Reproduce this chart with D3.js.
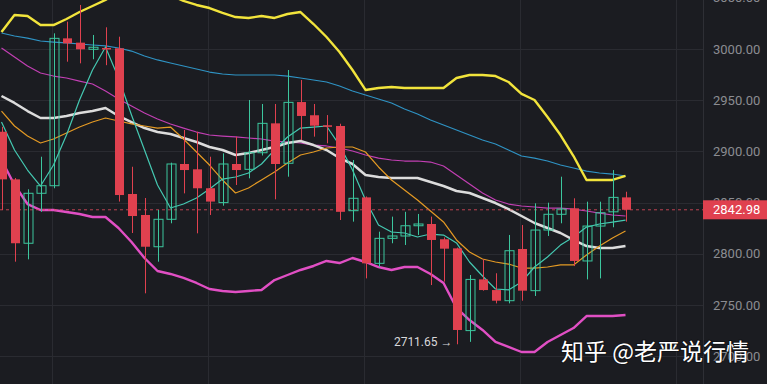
<!DOCTYPE html>
<html>
<head>
<meta charset="utf-8">
<script src="https://cdn.jsdelivr.net/npm/d3@7"></script>
<style>
  html, body { margin: 0; padding: 0; background: #1b1c21; }
  svg { display: block; }
</style>
</head>
<body>
<div id="chart"></div>
<script>
// candle data (one entry per bar)
var opens  = [2919.2,2872.7,2810.3,2859.1,2866.5,3010.4,3006.2,2999.7,3001.0,3000.7,2858.4,2837.9,2806.9,2833.7,2887.7,2882.5,2864.0,2850.0,2887.7,2882.5,2898.7,2927.4,2888.4,2948.2,2935.3,2925.5,2924.8,2842.1,2855.1,2790.7,2815.1,2817.4,2827.4,2829.1,2814.2,2805.3,2725.0,2775.0,2764.6,2754.2,2804.7,2764.0,2823.2,2838.6,2844.4,2793.0,2827.1,2841.0,2855.1];
var highs  = [2924.0,2874.0,2863.0,2894.8,3015.3,3026.7,3043.0,3013.7,3021.2,3012.0,2885.0,2854.5,2842.8,2889.0,2920.9,2919.2,2894.8,2898.1,2914.4,2950.2,2946.3,2946.3,2979.5,2969.7,2946.3,2935.5,2927.0,2891.6,2856.0,2821.6,2836.3,2841.0,2838.9,2836.3,2816.0,2806.0,2779.3,2794.6,2781.0,2818.4,2828.1,2849.3,2849.9,2875.3,2854.2,2850.9,2850.9,2881.8,2860.6];
var lows   = [2842.8,2792.3,2794.6,2841.0,2864.0,2987.6,2986.0,2990.0,2984.2,2851.0,2820.3,2761.4,2792.3,2829.8,2859.0,2820.0,2837.9,2847.0,2867.2,2873.7,2896.0,2853.2,2875.3,2911.1,2914.4,2907.9,2833.0,2831.4,2776.0,2787.0,2810.3,2808.6,2818.4,2769.5,2772.8,2711.65,2714.0,2764.0,2751.6,2751.6,2754.2,2758.8,2817.4,2829.8,2788.0,2775.0,2776.0,2825.9,2831.4];
var closes = [2872.7,2810.3,2859.1,2866.5,3010.4,3005.5,2999.7,3001.7,3000.0,2857.4,2836.9,2806.9,2833.7,2887.7,2881.8,2864.0,2851.0,2887.7,2881.8,2898.7,2927.4,2887.7,2947.9,2934.6,2925.1,2924.0,2841.0,2854.2,2790.7,2815.1,2817.4,2827.4,2829.1,2813.5,2805.0,2725.6,2775.0,2764.6,2754.2,2803.0,2764.0,2823.2,2838.6,2843.7,2793.0,2827.1,2840.1,2855.1,2842.98];

// indicator lines
var ma5  = [2928.7,2901.4,2881.8,2866.2,2886.7,2916.0,2950.2,2979.5,3002.0,2971.7,2935.5,2901.4,2867.2,2844.7,2848.6,2854.5,2863.3,2873.0,2875.0,2878.9,2887.7,2901.4,2914.1,2922.8,2923.8,2924.8,2906.2,2881.8,2852.5,2828.1,2821.3,2820.3,2816.4,2819.3,2818.3,2810.6,2792.0,2778.3,2765.6,2764.7,2772.4,2787.1,2796.9,2808.5,2816.4,2826.1,2829.1,2831.0,2832.9];
var ma10 = [2939.4,2924.8,2915.0,2908.2,2912.1,2918.0,2923.8,2928.7,2932.6,2929.7,2926.8,2924.8,2922.8,2923.8,2912.1,2899.4,2886.7,2872.1,2859.4,2864.3,2872.1,2879.9,2888.7,2896.5,2899.4,2903.3,2904.3,2904.3,2899.4,2884.8,2872.1,2862.3,2852.5,2841.8,2831.1,2813.5,2801.7,2794.9,2792.0,2790.0,2786.1,2786.1,2787.1,2789.1,2789.1,2798.8,2807.6,2815.4,2822.3];
var ma20 = [2954.1,2947.3,2939.4,2932.6,2932.6,2934.6,2937.5,2939.4,2942.4,2934.6,2928.7,2922.8,2918.9,2917.0,2913.1,2909.2,2904.3,2901.4,2896.5,2898.4,2901.4,2904.3,2908.2,2910.1,2906.2,2901.4,2893.5,2887.7,2876.9,2875.0,2874.0,2874.0,2874.0,2870.1,2866.2,2861.3,2859.4,2854.5,2849.6,2843.7,2836.9,2830.1,2825.2,2820.3,2813.5,2807.6,2805.6,2805.6,2807.6];
var ma30 = [3001.0,2992.2,2983.4,2976.6,2973.6,2971.7,2968.7,2965.8,2959.0,2951.2,2944.3,2937.5,2931.6,2926.8,2922.8,2918.9,2916.0,2915.0,2914.1,2913.1,2912.1,2910.1,2909.2,2908.2,2906.2,2905.3,2903.3,2900.4,2896.5,2893.5,2891.6,2890.6,2890.6,2889.6,2885.7,2876.9,2868.1,2859.4,2852.5,2848.6,2846.7,2845.7,2844.7,2844.7,2843.7,2841.8,2839.8,2837.9,2836.9];
var ma60 = [3015.6,3012.7,3010.7,3007.8,3006.8,3005.9,3004.9,3003.9,3003.0,3001.0,2998.0,2993.2,2989.3,2986.3,2983.4,2980.5,2977.5,2975.6,2974.6,2974.6,2974.6,2974.6,2973.6,2971.7,2969.7,2967.8,2963.9,2959.0,2955.1,2951.2,2947.3,2941.4,2936.5,2930.7,2925.8,2920.9,2916.0,2911.1,2907.2,2901.4,2895.5,2893.5,2890.6,2886.7,2883.8,2880.8,2878.9,2877.9,2876.0];
var bollUpper = [3016.6,3033.2,3032.2,3023.4,3023.4,3029.3,3036.1,3042.0,3047.9,3055.7,3061.5,3065.4,3063.5,3052.7,3046.9,3043.0,3040.0,3035.2,3031.2,3030.3,3032.2,3030.3,3034.2,3036.1,3024.4,3011.7,2997.1,2979.5,2960.0,2961.9,2962.9,2961.9,2961.9,2961.9,2961.9,2971.7,2974.6,2974.6,2973.6,2967.8,2956.1,2950.2,2933.6,2916.0,2895.5,2872.1,2872.1,2872.1,2876.0];
var bollLower = [2891.6,2867.2,2848.6,2842.8,2842.8,2840.8,2838.9,2835.9,2835.9,2825.2,2811.5,2795.9,2783.2,2780.3,2776.4,2771.5,2765.6,2763.7,2762.7,2763.7,2764.7,2774.4,2779.3,2784.2,2788.1,2793.0,2791.0,2795.9,2792.0,2787.1,2784.2,2787.1,2787.1,2780.3,2771.5,2747.1,2735.3,2725.6,2713.9,2709.0,2704.1,2704.1,2713.9,2720.7,2727.5,2739.2,2739.2,2739.2,2740.2];

var priceTicks = [3050, 3000, 2950, 2900, 2850, 2800, 2750, 2700];
var gridBars = [4, 16, 28, 40, 52];
var lastPrice = 2842.98;
var lowMark = 2711.65, lowBar = 35;

var width = 767, height = 384, plotRight = 703;

var svg = d3.select('#chart').append('svg')
  .attr('width', width).attr('height', height)
  .style('background', '#1b1c21');

var x = d3.scaleLinear().domain([0, 48]).range([1.5, 625.5]);
var y = d3.scaleLinear().domain([2700, 3050]).range([356.2, -2.2]);

// grid
svg.append('g').selectAll('line.h')
  .data(priceTicks).enter().append('line')
  .attr('x1', 0).attr('x2', plotRight)
  .attr('y1', function (d) { return Math.round(y(d)) + 0.5; })
  .attr('y2', function (d) { return Math.round(y(d)) + 0.5; })
  .attr('stroke', '#2a2b31').attr('stroke-width', 1);

svg.append('g').selectAll('line.v')
  .data(gridBars).enter().append('line')
  .attr('x1', function (d) { return Math.round(x(d)) - 1.5; })
  .attr('x2', function (d) { return Math.round(x(d)) - 1.5; })
  .attr('y1', 0).attr('y2', height)
  .attr('stroke', '#2a2b31').attr('stroke-width', 1);

svg.append('line')
  .attr('x1', plotRight + 0.5).attr('x2', plotRight + 0.5)
  .attr('y1', 0).attr('y2', height)
  .attr('stroke', '#2e2f35');

// price axis on the right
var axis = d3.axisRight(y).tickValues(priceTicks)
  .tickFormat(d3.format('.2f')).tickSize(0).tickPadding(10);
var gAxis = svg.append('g').attr('transform', 'translate(' + plotRight + ',0)').call(axis);
gAxis.select('.domain').remove();
gAxis.selectAll('text')
  .attr('fill', '#8b8c92')
  .style('font-family', 'Roboto, "Noto Sans", sans-serif')
  .style('font-size', '13px');

var plot = svg.append('g');

// indicator lines
function addLine(values, color, w) {
  var line = d3.line()
    .x(function (d, i) { return x(i); })
    .y(function (d) { return y(d); });
  plot.append('path').datum(values)
    .attr('d', line)
    .attr('fill', 'none')
    .attr('stroke', color)
    .attr('stroke-width', w)
    .attr('stroke-linejoin', 'round');
}
addLine(ma60, '#2f93c4', 1.2);
addLine(ma30, '#c23fb3', 1.2);
addLine(bollUpper, '#f2e43c', 2.4);
addLine(bollLower, '#e14fc4', 2.4);
addLine(ma20, '#dcdcdc', 2.5);
addLine(ma10, '#e49a24', 1.2);
addLine(ma5, '#45c9b2', 1.2);

// last price dashed line
plot.append('line')
  .attr('x1', 0).attr('x2', plotRight)
  .attr('y1', y(lastPrice)).attr('y2', y(lastPrice))
  .attr('stroke', '#d9495a').attr('stroke-width', 1)
  .attr('stroke-dasharray', '3,3').attr('opacity', 0.85);

// candles
var red = '#e0414f', green = '#3cc69e', bodyW = 9;
var candles = plot.append('g').selectAll('g')
  .data(opens).enter().append('g');

candles.append('line')
  .attr('x1', function (d, i) { return Math.round(x(i)) + 0.5; })
  .attr('x2', function (d, i) { return Math.round(x(i)) + 0.5; })
  .attr('y1', function (d, i) { return y(highs[i]); })
  .attr('y2', function (d, i) { return y(lows[i]); })
  .attr('stroke', function (d, i) { return closes[i] >= d ? green : red; })
  .attr('stroke-width', 1);

candles.append('rect')
  .attr('x', function (d, i) { return Math.round(x(i)) - 4; })
  .attr('width', bodyW)
  .attr('y', function (d, i) { return y(Math.max(d, closes[i])); })
  .attr('height', function (d, i) { return Math.max(1.5, Math.abs(y(d) - y(closes[i]))); })
  .attr('fill', function (d, i) { return closes[i] >= d ? 'none' : red; })
  .attr('stroke', function (d, i) { return closes[i] >= d ? green : 'none'; })
  .attr('stroke-width', 1);

// low marker
svg.append('text')
  .attr('x', x(lowBar) - 4).attr('y', y(lowMark) + 2)
  .attr('text-anchor', 'end')
  .attr('fill', '#d8d8da')
  .style('font-family', 'Roboto, "Noto Sans", sans-serif')
  .style('font-size', '12px')
  .text(lowMark.toFixed(2) + ' \u2192');

// last price label
svg.append('rect')
  .attr('x', plotRight).attr('y', y(lastPrice) - 9.5)
  .attr('width', width - plotRight).attr('height', 19)
  .attr('fill', '#e0414f');
svg.append('text')
  .attr('x', plotRight + 10).attr('y', y(lastPrice) + 4.5)
  .attr('fill', '#ffffff')
  .style('font-family', 'Roboto, "Noto Sans", sans-serif')
  .style('font-size', '13px')
  .text(lastPrice.toFixed(2));

// watermark
svg.append('text')
  .attr('x', 561).attr('y', 360)
  .attr('fill', '#ffffff')
  .style('font-family', '"Noto Sans CJK SC", sans-serif')
  .style('font-size', '23px')
  .style('paint-order', 'stroke')
  .attr('stroke', 'rgba(0,0,0,0.35)').attr('stroke-width', 2)
  .text('知乎 @老严说行情');
</script>
</body>
</html>
